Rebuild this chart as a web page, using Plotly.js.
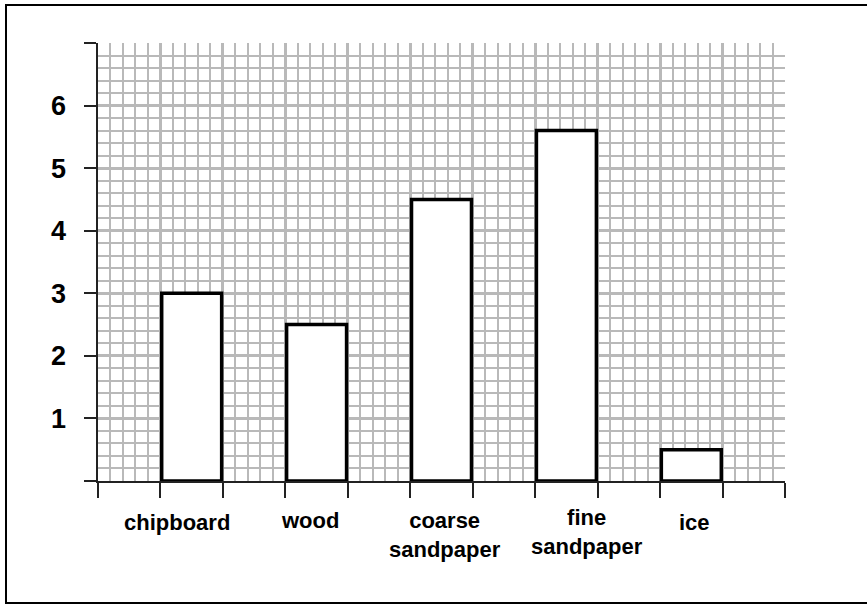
<!DOCTYPE html>
<html>
<head>
<meta charset="utf-8">
<script src="https://cdn.plot.ly/plotly-3.0.1.min.js"></script>
<style>
  html, body { margin: 0; padding: 0; background: #fff; }
  #wrap { position: relative; width: 867px; height: 608px; overflow: hidden; }
  #chart { width: 867px; height: 608px; }
  #frame { position: absolute; left: 5px; top: 4px; width: 870px; height: 600px;
           border: 2px solid #000; box-sizing: border-box; pointer-events: none; }
</style>
</head>
<body>
<div id="wrap">
  <div id="chart"></div>
  <div id="frame"></div>
</div>
<script>
// ---- data ----
const categories = ["chipboard", "wood", "coarse sandpaper", "fine sandpaper", "ice"];
const labelLines = ["chipboard", "wood", "coarse<br>sandpaper", "fine<br>sandpaper", "ice"];
const values = [3.0, 2.5, 4.5, 5.6, 0.5];
const yTickVals = [0, 1, 2, 3, 4, 5, 6, 7];
const yTickText = ["", "1", "2", "3", "4", "5", "6", ""];

// label offsets (pixels) to mimic the reference's placement
const labelShiftX = [-15, -7, 3, 21, 3];
const labelShiftY = [-27, -25, -25, -22, -27];

const idx = categories.map((c, i) => i);

const trace = {
  type: "bar",
  x: idx,
  y: values,
  width: 0.48,
  marker: { color: "#ffffff", line: { color: "#000000", width: 3.5 } },
  hoverinfo: "skip"
};

const annotations = categories.map((c, i) => ({
  x: idx[i], xref: "x",
  y: 0, yref: "paper",
  yanchor: "top", xanchor: "center",
  text: labelLines[i],
  showarrow: false,
  xshift: labelShiftX[i],
  yshift: labelShiftY[i],
  align: "center",
  font: { family: "Liberation Sans, Arial, sans-serif", size: 22, weight: 700, color: "#000" }
}));

const gridCol = "#b9b9b9";

const layout = {
  width: 867, height: 608,
  margin: { l: 98, r: 82, t: 43, b: 127 },
  paper_bgcolor: "#ffffff",
  plot_bgcolor: "#ffffff",
  showlegend: false,
  bargap: 0,
  xaxis: {
    type: "linear",
    range: [-0.75, 4.75],
    tick0: -0.75, dtick: 0.5,
    showticklabels: false,
    ticks: "outside", ticklen: 15, tickwidth: 2, tickcolor: "#222",
    showgrid: true, gridcolor: gridCol, gridwidth: 3,
    minor: { tick0: -0.75, dtick: 0.1, showgrid: true, gridcolor: gridCol, gridwidth: 2, ticks: "" },
    zeroline: false,
    showline: true, linecolor: "#222", linewidth: 2,
    fixedrange: true
  },
  yaxis: {
    range: [0, 7],
    tickmode: "array", tickvals: yTickVals, ticktext: yTickText,
    ticks: "outside", ticklen: 12, tickwidth: 2, tickcolor: "#222",
    ticklabelstandoff: 12,
    tickfont: { family: "Liberation Sans, Arial, sans-serif", size: 27, weight: 700, color: "#000" },
    showgrid: true, gridcolor: gridCol, gridwidth: 3,
    minor: { tick0: 0, dtick: 0.2, showgrid: true, gridcolor: gridCol, gridwidth: 2, ticks: "" },
    zeroline: false,
    showline: true, linecolor: "#222", linewidth: 2.5,
    fixedrange: true
  },
  annotations: annotations
};

Plotly.newPlot("chart", [trace], layout, { displayModeBar: false, staticPlot: true });
</script>
</body>
</html>
